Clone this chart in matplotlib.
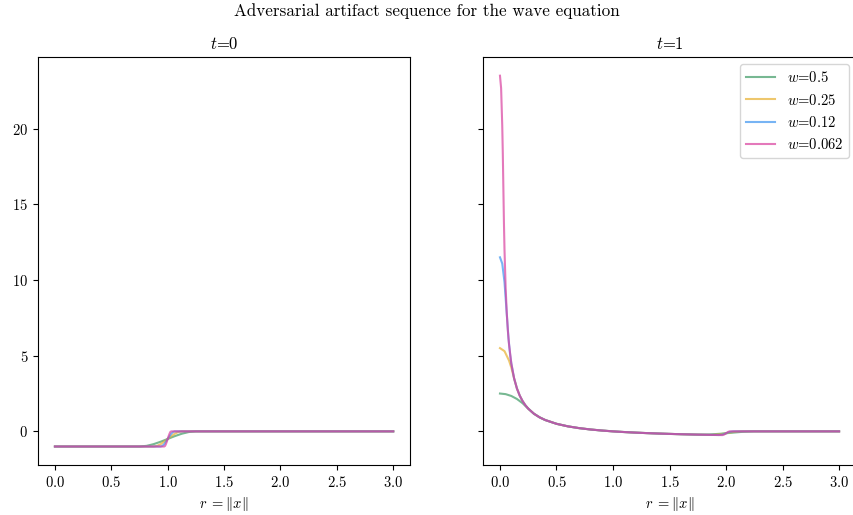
import matplotlib
matplotlib.use("Agg")
import matplotlib.pyplot as plt

plt.rcParams.update({
    "font.family": "serif",
    "font.serif": ["cmr10"],
    "mathtext.fontset": "cm",
    "axes.formatter.use_mathtext": True,
    "font.size": 10,
    "axes.unicode_minus": False,
})

labels = ["$w$=0.5", "$w$=0.25", "$w$=0.12", "$w$=0.062"]
colors = ["#3d9a64", "#e8b02f", "#3d94f0", "#d9409f"]

# ---- t = 0 : initial data (smoothed step at r = 1) ----
r0_w05 = [0.0, 0.75, 0.8125, 0.875, 0.9375, 1.0, 1.0625, 1.125, 1.1875, 1.25, 3.0]
r0_w025 = [0.0, 0.875, 0.90625, 0.9375, 0.96875, 1.0, 1.03125, 1.0625, 1.09375, 1.125, 3.0]
r0_w012 = [0.0, 0.9375, 0.953, 0.96875, 0.984, 1.0, 1.016, 1.03125, 1.047, 1.0625, 3.0]
r0_w006 = [0.0, 0.96875, 0.977, 0.984, 0.992, 1.0, 1.008, 1.016, 1.023, 1.03125, 3.0]
u0_step = [-1.0, -1.0, -0.957, -0.844, -0.684, -0.5, -0.316, -0.156, -0.043, 0.0, 0.0]

# ---- t = 1 : solution ----
r_mid = [0.3, 0.35, 0.4, 0.5, 0.6, 0.7, 0.8, 0.9, 1.0, 1.1, 1.2, 1.3, 1.4, 1.5, 1.6, 1.7]
u_mid = [1.167, 0.929, 0.75, 0.5, 0.333, 0.214, 0.125, 0.056, 0.0, -0.045, -0.083,
         -0.115, -0.143, -0.167, -0.188, -0.206]

r1_head_w05 = [0.0, 0.05, 0.1, 0.15, 0.2, 0.25]
u1_head_w05 = [2.5, 2.46, 2.34, 2.14, 1.86, 1.5]
r1_tail_w05 = [1.75, 1.85, 1.95, 2.05, 2.15, 2.25, 3.0]
u1_tail_w05 = [-0.214, -0.206, -0.158, -0.090, -0.028, 0.0, 0.0]

r1_head_w025 = [0.0, 0.04, 0.08, 0.1, 0.125, 0.15, 0.175, 0.2, 0.225, 0.25]
u1_head_w025 = [5.5, 5.30, 4.68, 4.22, 3.5, 2.833, 2.357, 2.0, 1.722, 1.5]
r1_tail_w025 = [1.8, 1.875, 1.9375, 2.0, 2.0625, 2.125, 3.0]
u1_tail_w025 = [-0.222, -0.233, -0.204, -0.125, -0.040, 0.0, 0.0]

r1_head_w012 = [0.0, 0.02, 0.04, 0.0625, 0.075, 0.09, 0.1, 0.125, 0.15, 0.175, 0.2, 0.225, 0.25]
u1_head_w012 = [11.5, 11.09, 9.86, 7.5, 6.17, 5.06, 4.5, 3.5, 2.833, 2.357, 2.0, 1.722, 1.5]
r1_tail_w012 = [1.8, 1.9, 1.9375, 1.96875, 2.0, 2.03125, 2.0625, 3.0]
u1_tail_w012 = [-0.222, -0.237, -0.242, -0.208, -0.125, -0.040, 0.0, 0.0]

r1_head_w006 = [0.0, 0.01, 0.02, 0.025, 0.03125, 0.035, 0.04, 0.05, 0.06, 0.07, 0.08,
                0.1, 0.125, 0.15, 0.175, 0.2, 0.225, 0.25]
u1_head_w006 = [23.5, 22.68, 20.2, 18.38, 15.5, 13.79, 12.0, 9.5, 7.83, 6.64, 5.75,
                4.5, 3.5, 2.833, 2.357, 2.0, 1.722, 1.5]
r1_tail_w006 = [1.8, 1.9, 1.96875, 1.984, 2.0, 2.016, 2.031, 3.0]
u1_tail_w006 = [-0.222, -0.237, -0.246, -0.209, -0.125, -0.040, 0.0, 0.0]

left_r = [r0_w05, r0_w025, r0_w012, r0_w006]
right_r = [r1_head_w05 + r_mid + r1_tail_w05,
           r1_head_w025 + r_mid + r1_tail_w025,
           r1_head_w012 + r_mid + r1_tail_w012,
           r1_head_w006 + r_mid + r1_tail_w006]
right_u = [u1_head_w05 + u_mid + u1_tail_w05,
           u1_head_w025 + u_mid + u1_tail_w025,
           u1_head_w012 + u_mid + u1_tail_w012,
           u1_head_w006 + u_mid + u1_tail_w006]

fig = plt.figure(figsize=(8.54, 5.15), dpi=100)
ax1 = fig.add_axes([0.0445, 0.097, 0.4358, 0.792])
ax2 = fig.add_axes([0.5656, 0.097, 0.4368, 0.792], sharey=ax1)

for rr, c, lab in zip(left_r, colors, labels):
    ax1.plot(rr, u0_step, color=c, alpha=0.7, lw=1.5, label=lab)
for rr, uu, c, lab in zip(right_r, right_u, colors, labels):
    ax2.plot(rr, uu, color=c, alpha=0.7, lw=1.5, label=lab)

ax1.set_title("$t$=0", fontsize=12)
ax2.set_title("$t$=1", fontsize=12)
for ax in (ax1, ax2):
    ax.set_xlabel(r"$r\;=\|x\|$", fontsize=10.5)
    ax.set_xticks([0.0, 0.5, 1.0, 1.5, 2.0, 2.5, 3.0])
    ax.tick_params(labelsize=10.5)
ax1.set_yticks([0, 5, 10, 15, 20])
plt.setp(ax2.get_yticklabels(), visible=False)
ax2.legend(loc="upper right", fontsize=10.5)
fig.suptitle("Adversarial artifact sequence for the wave equation", fontsize=12.3, y=0.993)

fig.savefig("out.png", dpi=100)
